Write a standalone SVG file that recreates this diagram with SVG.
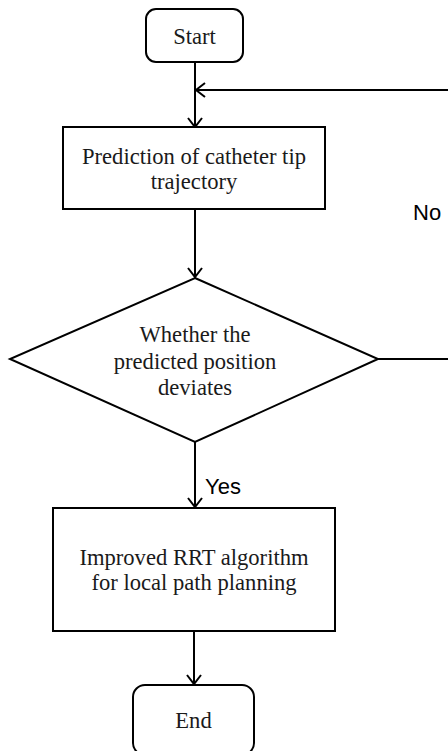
<svg xmlns="http://www.w3.org/2000/svg" width="448" height="751" viewBox="0 0 448 751">
<style>
.box{fill:#fff;stroke:#000;stroke-width:2}
.t{font-family:"Liberation Serif","Times New Roman",serif;font-size:22.6px;fill:#1a1a1a;text-anchor:middle}
.lbl{font-family:"Liberation Sans",Arial,sans-serif;font-size:22px;fill:#000}
.c{fill:none;stroke:#000;stroke-width:2}
</style>
<defs>
<marker id="arr" markerUnits="userSpaceOnUse" markerWidth="20" markerHeight="20" refX="10" refY="10" orient="auto">
<path d="M1,3 L10,10 L1,17" fill="none" stroke="#000" stroke-width="2"/>
</marker>
</defs>
<rect width="448" height="751" fill="#fff"/>
<g id="connectors">
<line class="c" x1="195" y1="62" x2="195" y2="127" marker-end="url(#arr)"/>
<line class="c" x1="448" y1="90" x2="196" y2="90" marker-end="url(#arr)"/>
<line class="c" x1="195" y1="209" x2="195" y2="277" marker-end="url(#arr)"/>
<line class="c" x1="378" y1="359" x2="448" y2="359"/>
<line class="c" x1="195" y1="442" x2="195" y2="507" marker-end="url(#arr)"/>
<line class="c" x1="194" y1="631" x2="194" y2="684" marker-end="url(#arr)"/>
<text class="lbl" x="413" y="220">No</text>
<text class="lbl" x="205" y="494">Yes</text>
</g>
<g id="start">
<rect class="box" x="146" y="9" width="97" height="53" rx="10"/>
<text class="t" x="194.5" y="44">Start</text>
</g>
<g id="predict">
<rect class="box" x="63" y="127" width="262" height="82"/>
<text class="t" x="194" y="164">Prediction of catheter tip</text>
<text class="t" x="194" y="189">trajectory</text>
</g>
<g id="decision">
<polygon class="box" points="195,278 378,359 195,442 10,359"/>
<text class="t" x="195" y="342">Whether the</text>
<text class="t" x="195" y="369">predicted position</text>
<text class="t" x="195" y="395">deviates</text>
</g>
<g id="rrt">
<rect class="box" x="53" y="508" width="282" height="123"/>
<text class="t" x="194" y="565">Improved RRT algorithm</text>
<text class="t" x="194" y="590">for local path planning</text>
</g>
<g id="end">
<rect class="box" x="133" y="685" width="121" height="70" rx="12"/>
<text class="t" x="193.5" y="728">End</text>
</g>
</svg>
